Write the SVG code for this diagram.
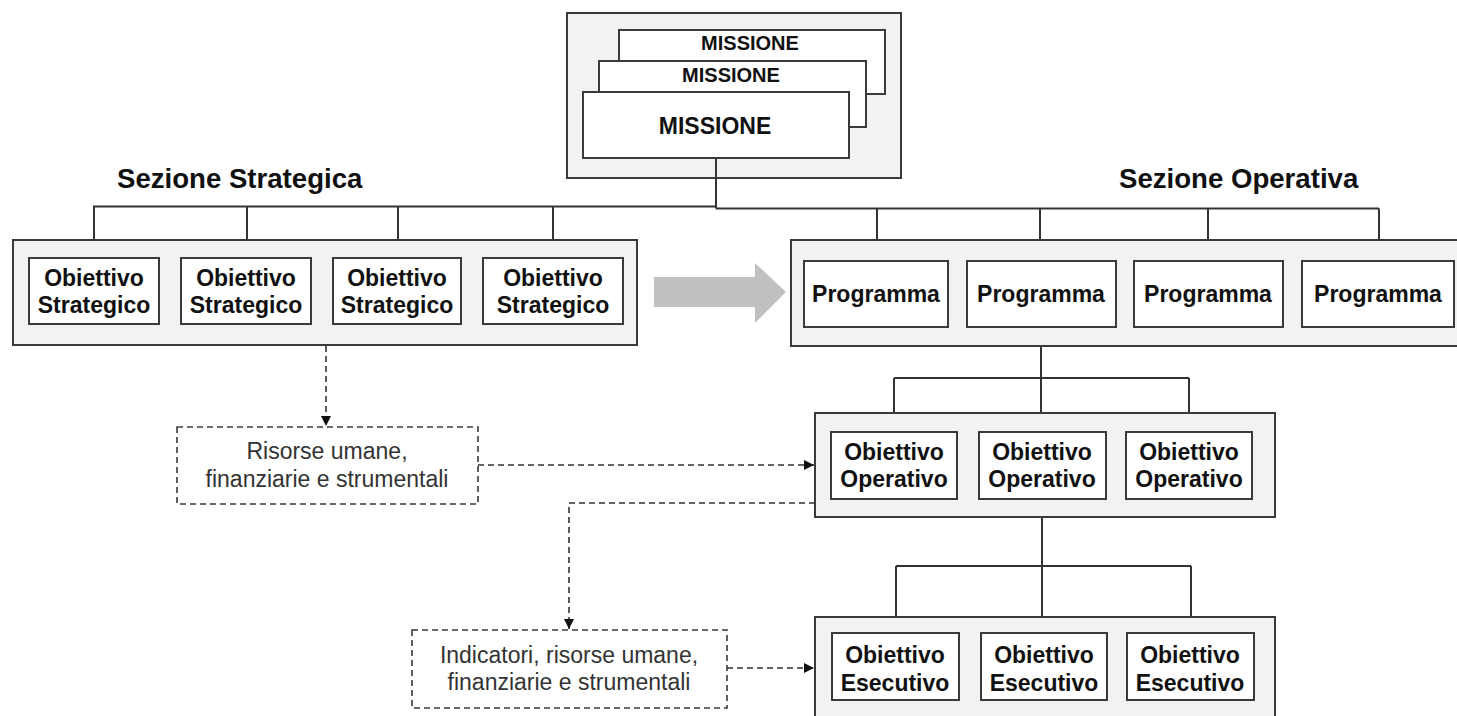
<svg xmlns="http://www.w3.org/2000/svg" width="1457" height="716" viewBox="0 0 1457 716">
<defs>
<style>
.cont{fill:#f2f2f2;stroke:#3a3a3a;stroke-width:2}
.box{fill:#ffffff;stroke:#3a3a3a;stroke-width:2}
.dbox{fill:#ffffff;stroke:#3a3a3a;stroke-width:1.6;stroke-dasharray:6 4}
.ln{fill:none;stroke:#333;stroke-width:2}
.dl{fill:none;stroke:#333;stroke-width:1.6;stroke-dasharray:6 4}
.bt{font-family:"Liberation Sans",Arial,sans-serif;font-weight:bold;font-size:23px;fill:#111;text-anchor:middle}
.rt{font-family:"Liberation Sans",Arial,sans-serif;font-size:23px;fill:#333;text-anchor:middle}
.hd{font-family:"Liberation Sans",Arial,sans-serif;font-weight:bold;font-size:27.6px;fill:#111}
</style>
<marker id="ah" viewBox="0 0 10 10" refX="10" refY="5" markerWidth="10" markerHeight="10" markerUnits="userSpaceOnUse" orient="auto">
<path d="M0,0 L10,5 L0,10 z" fill="#111"/>
</marker>
</defs>

<g id="missione">
<rect class="cont" x="567" y="13" width="334" height="165"/>
<rect class="box" x="619" y="30" width="266" height="64"/>
<text class="bt" x="750" y="50" style="font-size:20px">MISSIONE</text>
<rect class="box" x="599" y="61" width="267" height="66"/>
<text class="bt" x="731" y="82" style="font-size:20px">MISSIONE</text>
<rect class="box" x="583" y="92" width="266" height="66"/>
<text class="bt" x="715" y="134">MISSIONE</text>
</g>

<g id="headings">
<text class="hd" x="117" y="188">Sezione Strategica</text>
<text class="hd" x="1119" y="188">Sezione Operativa</text>
</g>

<g id="connectors">
<path class="ln" d="M716,158 V208.5 M93,206.5 H716 M716,208.5 H1379"/>
<path class="ln" d="M94,206.5 V258 M247,206.5 V258 M398,206.5 V258 M553,206.5 V258"/>
<path class="ln" d="M877,208.5 V261 M1040,208.5 V261 M1208,208.5 V261 M1379,208.5 V261"/>
<path class="ln" d="M1041,327 V432 M894,378 H1189 M894,378 V432 M1189,378 V432"/>
<path class="ln" d="M1042,499 V633 M896,566 H1191 M896,566 V633 M1191,566 V633"/>
<path class="dl" d="M326,346 V426" marker-end="url(#ah)"/>
<path class="dl" d="M478,465 H814" marker-end="url(#ah)"/>
<path class="dl" d="M815,503 H569 V629" marker-end="url(#ah)"/>
<path class="dl" d="M727,668 H814" marker-end="url(#ah)"/>
<polygon points="654,277 755,277 755,263 786,292 755,323 755,307 654,307" fill="#c0c0c0"/>
</g>

<g id="strategica">
<rect class="cont" x="13" y="240" width="624" height="105"/>
<g id="os1"><rect class="box" x="29" y="258" width="130" height="66"/><text class="bt" x="94" y="286">Obiettivo</text><text class="bt" x="94" y="313">Strategico</text></g>
<g id="os2"><rect class="box" x="181" y="258" width="130" height="66"/><text class="bt" x="246" y="286">Obiettivo</text><text class="bt" x="246" y="313">Strategico</text></g>
<g id="os3"><rect class="box" x="333" y="258" width="128" height="66"/><text class="bt" x="397" y="286">Obiettivo</text><text class="bt" x="397" y="313">Strategico</text></g>
<g id="os4"><rect class="box" x="483" y="258" width="140" height="66"/><text class="bt" x="553" y="286">Obiettivo</text><text class="bt" x="553" y="313">Strategico</text></g>
</g>

<g id="operativa">
<rect class="cont" x="791" y="240" width="680" height="106"/>
<g id="p1"><rect class="box" x="804" y="261" width="144" height="66"/><text class="bt" x="876" y="302">Programma</text></g>
<g id="p2"><rect class="box" x="967" y="261" width="149" height="66"/><text class="bt" x="1041" y="302">Programma</text></g>
<g id="p3"><rect class="box" x="1134" y="261" width="149" height="66"/><text class="bt" x="1208" y="302">Programma</text></g>
<g id="p4"><rect class="box" x="1302" y="261" width="152" height="66"/><text class="bt" x="1378" y="302">Programma</text></g>
</g>

<g id="risorse">
<rect class="dbox" x="177" y="427" width="301" height="77"/>
<text class="rt" x="327" y="459">Risorse umane,</text>
<text class="rt" x="327" y="487">finanziarie e strumentali</text>
</g>

<g id="obiettivi-operativi">
<rect class="cont" x="815" y="413" width="460" height="104"/>
<g id="oo1"><rect class="box" x="831" y="432" width="126" height="67"/><text class="bt" x="894" y="460">Obiettivo</text><text class="bt" x="894" y="487">Operativo</text></g>
<g id="oo2"><rect class="box" x="979" y="432" width="127" height="67"/><text class="bt" x="1042" y="460">Obiettivo</text><text class="bt" x="1042" y="487">Operativo</text></g>
<g id="oo3"><rect class="box" x="1126" y="432" width="126" height="67"/><text class="bt" x="1189" y="460">Obiettivo</text><text class="bt" x="1189" y="487">Operativo</text></g>
</g>

<g id="indicatori">
<rect class="dbox" x="412" y="630" width="315" height="78"/>
<text class="rt" x="569" y="663">Indicatori, risorse umane,</text>
<text class="rt" x="569" y="690">finanziarie e strumentali</text>
</g>

<g id="obiettivi-esecutivi">
<rect class="cont" x="815" y="617" width="460" height="110"/>
<g id="oe1"><rect class="box" x="832" y="633" width="127" height="67"/><text class="bt" x="895" y="663">Obiettivo</text><text class="bt" x="895" y="691">Esecutivo</text></g>
<g id="oe2"><rect class="box" x="981" y="633" width="126" height="67"/><text class="bt" x="1044" y="663">Obiettivo</text><text class="bt" x="1044" y="691">Esecutivo</text></g>
<g id="oe3"><rect class="box" x="1127" y="633" width="127" height="67"/><text class="bt" x="1190" y="663">Obiettivo</text><text class="bt" x="1190" y="691">Esecutivo</text></g>
</g>
</svg>
